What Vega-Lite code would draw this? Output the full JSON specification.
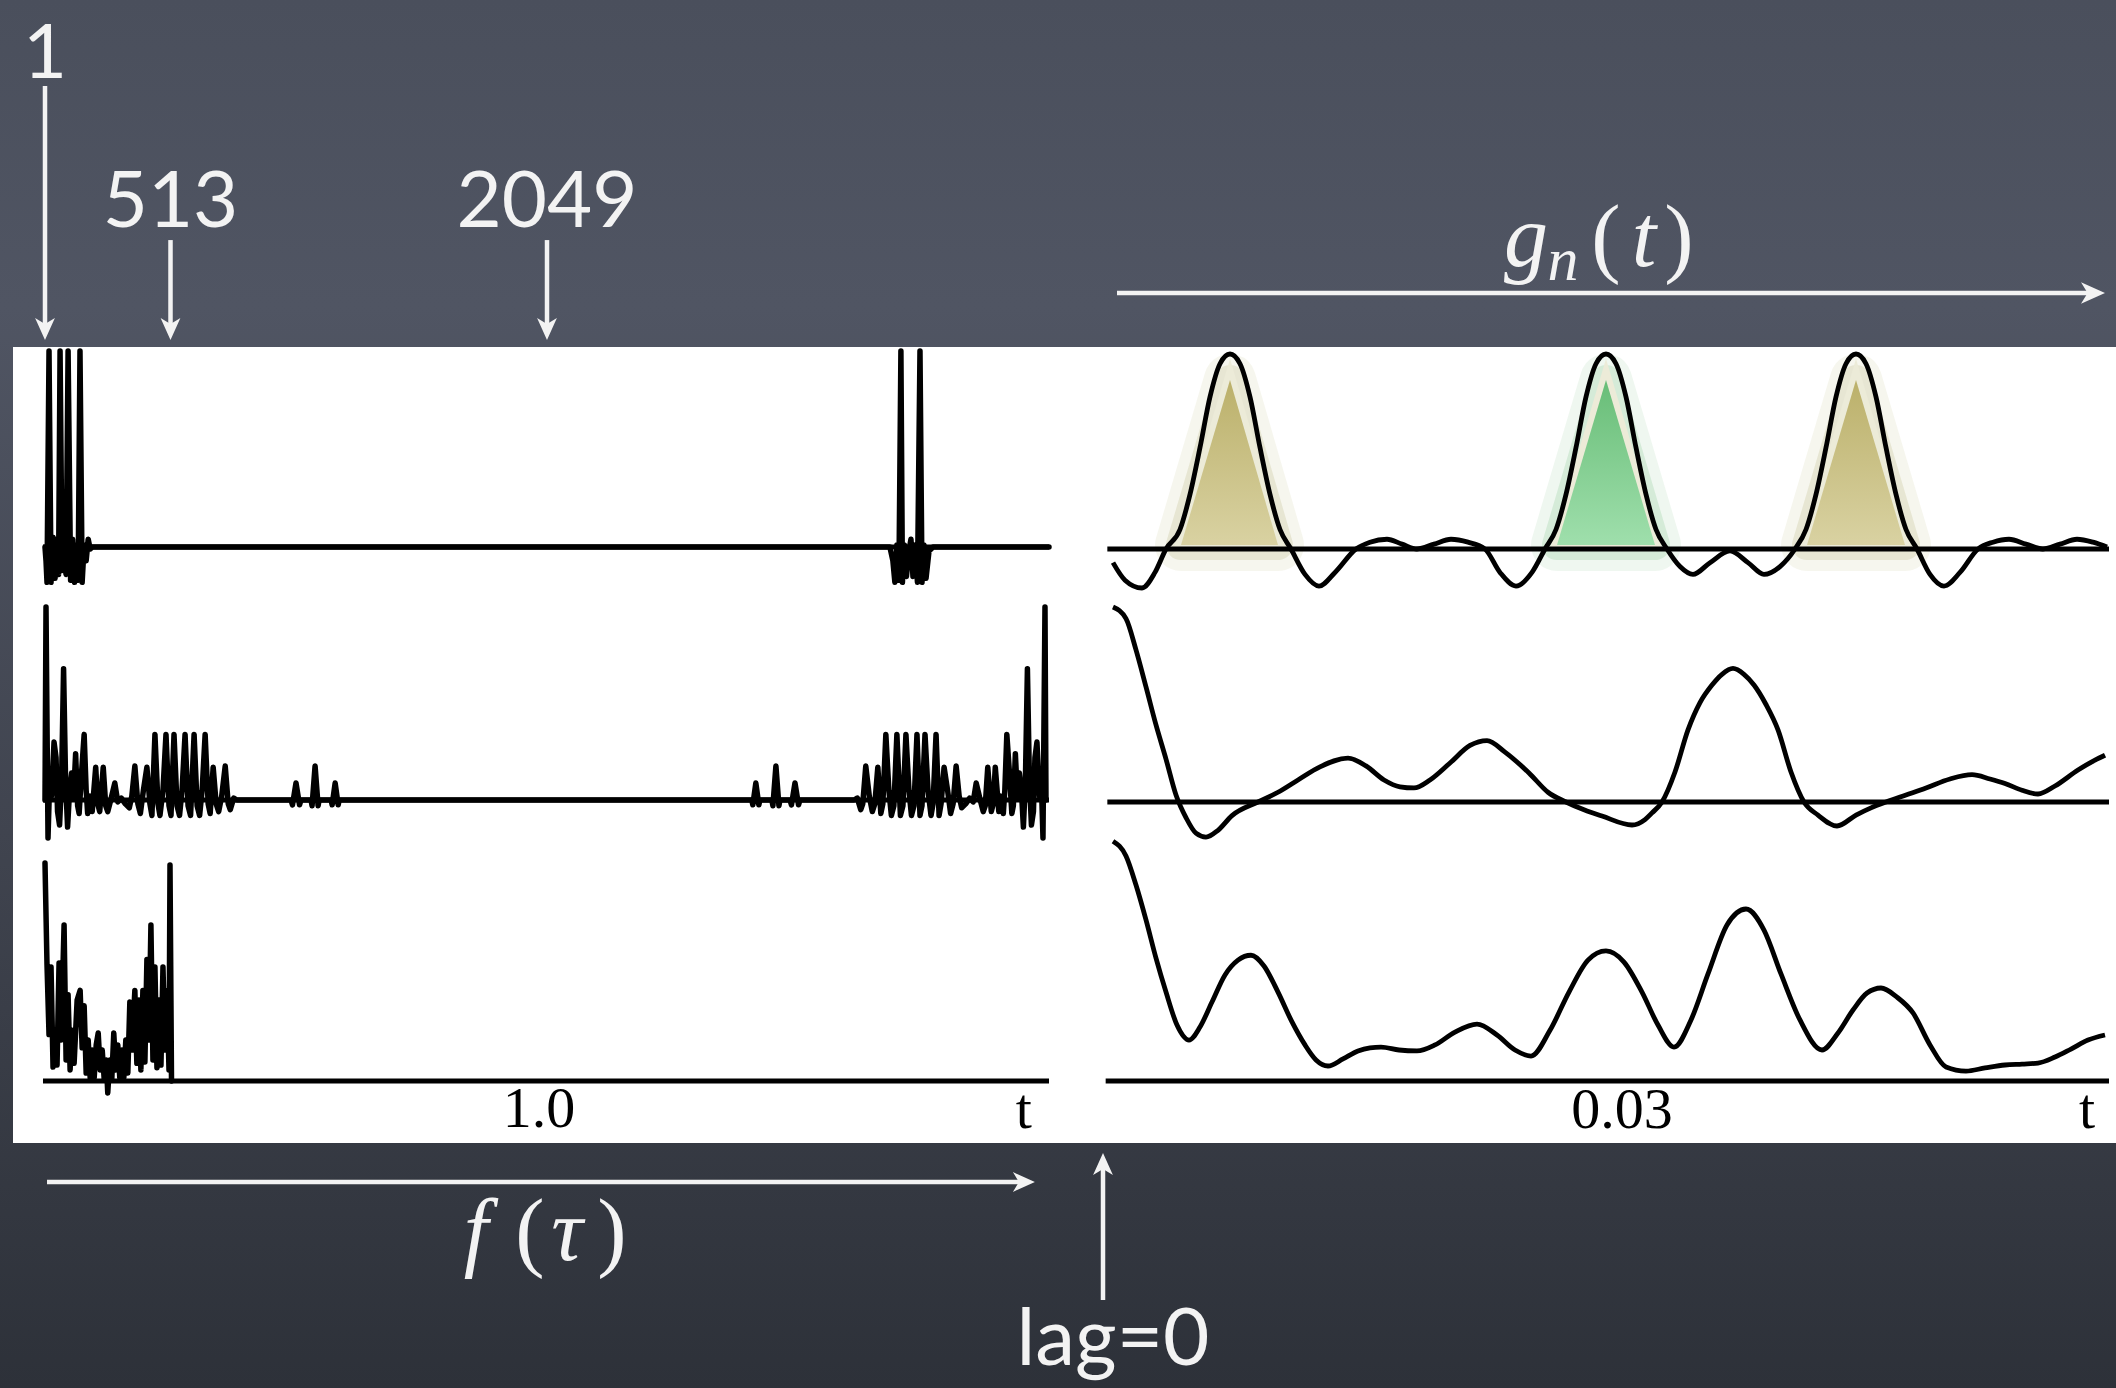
{
"$schema": "https://vega.github.io/schema/vega-lite/v6.json",
"width": 2116, "height": 1388, "padding": 0, "autosize": {"type": "none"},
"background": "#3c414c",
"config": {"view": {"stroke": null}, "axis": {"disable": true}},
"datasets": {
"f1": [{"t":0,"v":0},{"t":0.002,"v":-0.07},{"t":0.004,"v":-0.18},{"t":0.008,"v":1.0},{"t":0.012,"v":-0.18},{"t":0.016,"v":0.05},{"t":0.02,"v":-0.16},{"t":0.024,"v":0.04},{"t":0.027,"v":-0.14},{"t":0.03,"v":1.0},{"t":0.034,"v":-0.12},{"t":0.038,"v":-0.07},{"t":0.042,"v":-0.14},{"t":0.046,"v":1.0},{"t":0.051,"v":-0.17},{"t":0.055,"v":0.04},{"t":0.059,"v":-0.18},{"t":0.063,"v":0.01},{"t":0.066,"v":-0.17},{"t":0.0697,"v":1.0},{"t":0.074,"v":-0.18},{"t":0.078,"v":0.01},{"t":0.082,"v":-0.07},{"t":0.086,"v":0.04},{"t":0.09,"v":-0.01},{"t":0.094,"v":0},{"t":1.683,"v":0},{"t":1.689,"v":-0.07},{"t":1.693,"v":-0.18},{"t":1.697,"v":0.01},{"t":1.701,"v":-0.17},{"t":1.705,"v":1.0},{"t":1.708,"v":-0.18},{"t":1.712,"v":0.01},{"t":1.716,"v":-0.15},{"t":1.721,"v":-0.02},{"t":1.725,"v":0.04},{"t":1.729,"v":-0.15},{"t":1.733,"v":0.01},{"t":1.738,"v":-0.18},{"t":1.743,"v":1.0},{"t":1.747,"v":-0.18},{"t":1.751,"v":0.01},{"t":1.755,"v":-0.16},{"t":1.761,"v":-0.02},{"t":1.769,"v":0},{"t":2.0,"v":0}],
"f2": [{"t":0,"v":0},{"t":0.002,"v":1.0},{"t":0.006,"v":-0.197},{"t":0.01,"v":0.16},{"t":0.013,"v":0.02},{"t":0.018,"v":0.3},{"t":0.022,"v":0.22},{"t":0.025,"v":-0.06},{"t":0.029,"v":-0.13},{"t":0.033,"v":0.1},{"t":0.037,"v":0.68},{"t":0.041,"v":0.1},{"t":0.045,"v":-0.14},{"t":0.049,"v":0.05},{"t":0.053,"v":0.14},{"t":0.057,"v":0.02},{"t":0.061,"v":0.24},{"t":0.065,"v":-0.03},{"t":0.068,"v":-0.07},{"t":0.073,"v":0.15},{"t":0.078,"v":0.34},{"t":0.082,"v":0.05},{"t":0.085,"v":-0.07},{"t":0.09,"v":0.02},{"t":0.094,"v":-0.06},{"t":0.101,"v":0.17},{"t":0.105,"v":-0.02},{"t":0.109,"v":-0.06},{"t":0.116,"v":0.17},{"t":0.121,"v":-0.03},{"t":0.125,"v":-0.06},{"t":0.131,"v":0.0},{"t":0.139,"v":0.088},{"t":0.145,"v":-0.01},{"t":0.152,"v":0.01},{"t":0.16,"v":-0.02},{"t":0.168,"v":-0.04},{"t":0.173,"v":0.02},{"t":0.179,"v":0.176},{"t":0.185,"v":-0.02},{"t":0.19,"v":-0.07},{"t":0.196,"v":0.05},{"t":0.203,"v":0.17},{"t":0.209,"v":-0.02},{"t":0.213,"v":-0.08},{"t":0.219,"v":0.34},{"t":0.225,"v":-0.02},{"t":0.229,"v":-0.08},{"t":0.235,"v":0.05},{"t":0.241,"v":0.34},{"t":0.247,"v":-0.03},{"t":0.251,"v":-0.08},{"t":0.257,"v":0.34},{"t":0.263,"v":-0.03},{"t":0.268,"v":-0.08},{"t":0.273,"v":0.05},{"t":0.279,"v":0.34},{"t":0.285,"v":-0.03},{"t":0.29,"v":-0.08},{"t":0.297,"v":0.34},{"t":0.303,"v":-0.03},{"t":0.308,"v":-0.08},{"t":0.313,"v":0.05},{"t":0.319,"v":0.34},{"t":0.325,"v":-0.02},{"t":0.329,"v":-0.07},{"t":0.335,"v":0.17},{"t":0.341,"v":-0.02},{"t":0.346,"v":-0.06},{"t":0.352,"v":0.02},{"t":0.359,"v":0.176},{"t":0.365,"v":-0.02},{"t":0.369,"v":-0.05},{"t":0.376,"v":0.01},{"t":0.382,"v":0},{"t":0.49,"v":0},{"t":0.493,"v":-0.025},{"t":0.5,"v":0.088},{"t":0.507,"v":-0.025},{"t":0.51,"v":0},{"t":0.53,"v":0},{"t":0.532,"v":-0.03},{"t":0.538,"v":0.176},{"t":0.544,"v":-0.03},{"t":0.546,"v":0},{"t":0.57,"v":0},{"t":0.572,"v":-0.025},{"t":0.578,"v":0.088},{"t":0.584,"v":-0.025},{"t":0.586,"v":0},{"t":1.408,"v":0},{"t":1.41,"v":-0.025},{"t":1.416,"v":0.088},{"t":1.422,"v":-0.025},{"t":1.424,"v":0},{"t":1.448,"v":0},{"t":1.45,"v":-0.03},{"t":1.456,"v":0.176},{"t":1.462,"v":-0.03},{"t":1.464,"v":0},{"t":1.484,"v":0},{"t":1.487,"v":-0.025},{"t":1.494,"v":0.088},{"t":1.501,"v":-0.025},{"t":1.504,"v":0},{"t":1.612,"v":0},{"t":1.618,"v":0.01},{"t":1.625,"v":-0.05},{"t":1.629,"v":-0.02},{"t":1.635,"v":0.176},{"t":1.642,"v":0.02},{"t":1.648,"v":-0.06},{"t":1.653,"v":-0.02},{"t":1.659,"v":0.17},{"t":1.665,"v":-0.07},{"t":1.669,"v":-0.02},{"t":1.675,"v":0.34},{"t":1.681,"v":0.05},{"t":1.686,"v":-0.08},{"t":1.691,"v":-0.03},{"t":1.697,"v":0.34},{"t":1.704,"v":-0.08},{"t":1.709,"v":-0.03},{"t":1.715,"v":0.34},{"t":1.721,"v":0.05},{"t":1.726,"v":-0.08},{"t":1.731,"v":-0.03},{"t":1.737,"v":0.34},{"t":1.743,"v":-0.08},{"t":1.747,"v":-0.03},{"t":1.753,"v":0.34},{"t":1.759,"v":0.05},{"t":1.765,"v":-0.08},{"t":1.769,"v":-0.02},{"t":1.775,"v":0.34},{"t":1.781,"v":-0.08},{"t":1.785,"v":-0.02},{"t":1.791,"v":0.17},{"t":1.798,"v":0.05},{"t":1.804,"v":-0.07},{"t":1.809,"v":-0.02},{"t":1.815,"v":0.176},{"t":1.821,"v":0.02},{"t":1.826,"v":-0.04},{"t":1.834,"v":-0.02},{"t":1.842,"v":0.01},{"t":1.849,"v":-0.01},{"t":1.855,"v":0.088},{"t":1.863,"v":0.0},{"t":1.869,"v":-0.06},{"t":1.873,"v":-0.03},{"t":1.878,"v":0.17},{"t":1.885,"v":-0.06},{"t":1.889,"v":-0.02},{"t":1.893,"v":0.17},{"t":1.9,"v":-0.06},{"t":1.904,"v":0.02},{"t":1.909,"v":-0.07},{"t":1.912,"v":0.05},{"t":1.916,"v":0.34},{"t":1.921,"v":0.15},{"t":1.926,"v":-0.07},{"t":1.929,"v":-0.03},{"t":1.933,"v":0.24},{"t":1.937,"v":0.02},{"t":1.941,"v":0.14},{"t":1.945,"v":0.05},{"t":1.949,"v":-0.14},{"t":1.953,"v":0.1},{"t":1.957,"v":0.68},{"t":1.961,"v":0.1},{"t":1.965,"v":-0.13},{"t":1.969,"v":-0.06},{"t":1.972,"v":0.22},{"t":1.976,"v":0.3},{"t":1.981,"v":0.02},{"t":1.984,"v":0.16},{"t":1.988,"v":-0.197},{"t":1.992,"v":1.0},{"t":1.994,"v":0}],
"f3": [{"t":0,"v":0.986},{"t":0.004,"v":0.525},{"t":0.008,"v":0.21},{"t":0.012,"v":0.516},{"t":0.016,"v":0.063},{"t":0.02,"v":0.23},{"t":0.024,"v":0.072},{"t":0.028,"v":0.534},{"t":0.032,"v":0.186},{"t":0.038,"v":0.706},{"t":0.042,"v":0.095},{"t":0.046,"v":0.39},{"t":0.05,"v":0.05},{"t":0.054,"v":0.23},{"t":0.058,"v":0.08},{"t":0.064,"v":0.366},{"t":0.07,"v":0.41},{"t":0.074,"v":0.15},{"t":0.078,"v":0.34},{"t":0.082,"v":0.036},{"t":0.086,"v":0.186},{"t":0.09,"v":0.014},{"t":0.094,"v":0.14},{"t":0.098,"v":0.014},{"t":0.102,"v":0.163},{"t":0.106,"v":0.217},{"t":0.11,"v":0.05},{"t":0.114,"v":0.14},{"t":0.118,"v":0.005},{"t":0.122,"v":0.095},{"t":0.125,"v":-0.054},{"t":0.129,"v":0.095},{"t":0.133,"v":0.005},{"t":0.137,"v":0.217},{"t":0.141,"v":0.05},{"t":0.145,"v":0.163},{"t":0.149,"v":0.014},{"t":0.153,"v":0.14},{"t":0.157,"v":0.014},{"t":0.161,"v":0.186},{"t":0.165,"v":0.036},{"t":0.169,"v":0.357},{"t":0.173,"v":0.14},{"t":0.179,"v":0.41},{"t":0.183,"v":0.08},{"t":0.187,"v":0.366},{"t":0.191,"v":0.05},{"t":0.195,"v":0.41},{"t":0.199,"v":0.086},{"t":0.203,"v":0.55},{"t":0.207,"v":0.186},{"t":0.211,"v":0.706},{"t":0.215,"v":0.095},{"t":0.219,"v":0.516},{"t":0.223,"v":0.06},{"t":0.227,"v":0.366},{"t":0.231,"v":0.072},{"t":0.235,"v":0.516},{"t":0.239,"v":0.14},{"t":0.243,"v":0.41},{"t":0.247,"v":0.05},{"t":0.249,"v":0.977},{"t":0.252,"v":0}],
"g1": [{"t":0.00024,"v":-0.07},{"t":0.00096,"v":-0.16},{"t":0.00198,"v":-0.2},{"t":0.00276,"v":-0.12},{"t":0.00342,"v":0},{"t":0.00426,"v":0.1},{"t":0.00486,"v":0.28},{"t":0.00546,"v":0.52},{"t":0.00606,"v":0.78},{"t":0.00666,"v":0.95},{"t":0.00726,"v":1.0},{"t":0.00786,"v":0.95},{"t":0.00846,"v":0.78},{"t":0.00906,"v":0.52},{"t":0.00966,"v":0.28},{"t":0.01026,"v":0.1},{"t":0.01092,"v":0},{"t":0.01176,"v":-0.13},{"t":0.0126,"v":-0.19},{"t":0.01356,"v":-0.12},{"t":0.01482,"v":0},{"t":0.01566,"v":0.035},{"t":0.01668,"v":0.05},{"t":0.01758,"v":0.025},{"t":0.01848,"v":0.0},{"t":0.0195,"v":0.025},{"t":0.02052,"v":0.05},{"t":0.02154,"v":0.035},{"t":0.02256,"v":0},{"t":0.02346,"v":-0.12},{"t":0.02442,"v":-0.19},{"t":0.02538,"v":-0.12},{"t":0.02616,"v":0},{"t":0.02682,"v":0.1},{"t":0.02742,"v":0.28},{"t":0.02802,"v":0.52},{"t":0.02862,"v":0.78},{"t":0.02922,"v":0.95},{"t":0.02982,"v":1.0},{"t":0.03042,"v":0.95},{"t":0.03102,"v":0.78},{"t":0.03162,"v":0.52},{"t":0.03222,"v":0.28},{"t":0.03282,"v":0.1},{"t":0.03348,"v":0},{"t":0.03426,"v":-0.09},{"t":0.03504,"v":-0.13},{"t":0.03606,"v":-0.07},{"t":0.03726,"v":-0.01},{"t":0.03834,"v":-0.07},{"t":0.0393,"v":-0.13},{"t":0.04026,"v":-0.09},{"t":0.04116,"v":0},{"t":0.04182,"v":0.1},{"t":0.04242,"v":0.28},{"t":0.04302,"v":0.52},{"t":0.04362,"v":0.78},{"t":0.04422,"v":0.95},{"t":0.04482,"v":1.0},{"t":0.04542,"v":0.95},{"t":0.04602,"v":0.78},{"t":0.04662,"v":0.52},{"t":0.04722,"v":0.28},{"t":0.04782,"v":0.1},{"t":0.04848,"v":0},{"t":0.04926,"v":-0.13},{"t":0.0501,"v":-0.19},{"t":0.05106,"v":-0.12},{"t":0.05214,"v":0},{"t":0.05304,"v":0.035},{"t":0.054,"v":0.05},{"t":0.05502,"v":0.025},{"t":0.05604,"v":0.0},{"t":0.05706,"v":0.025},{"t":0.05808,"v":0.05},{"t":0.05904,"v":0.035},{"t":0.05988,"v":0.01}],
"g2": [{"t":0.00024,"v":1.0},{"t":0.00102,"v":0.94},{"t":0.00162,"v":0.78},{"t":0.00222,"v":0.59},{"t":0.00282,"v":0.395},{"t":0.00342,"v":0.22},{"t":0.00402,"v":0.036},{"t":0.00462,"v":-0.08},{"t":0.00522,"v":-0.16},{"t":0.00582,"v":-0.18},{"t":0.00654,"v":-0.145},{"t":0.00738,"v":-0.07},{"t":0.00894,"v":0},{"t":0.01014,"v":0.05},{"t":0.01134,"v":0.113},{"t":0.01266,"v":0.18},{"t":0.01434,"v":0.225},{"t":0.01542,"v":0.185},{"t":0.0165,"v":0.113},{"t":0.01746,"v":0.078},{"t":0.0183,"v":0.072},{"t":0.01926,"v":0.113},{"t":0.02046,"v":0.2},{"t":0.02166,"v":0.29},{"t":0.02268,"v":0.315},{"t":0.02376,"v":0.256},{"t":0.0252,"v":0.149},{"t":0.02634,"v":0.05},{"t":0.02742,"v":0},{"t":0.0285,"v":-0.04},{"t":0.02958,"v":-0.072},{"t":0.03138,"v":-0.118},{"t":0.03216,"v":-0.09},{"t":0.03258,"v":-0.056},{"t":0.03318,"v":0},{"t":0.03396,"v":0.154},{"t":0.03474,"v":0.37},{"t":0.03546,"v":0.51},{"t":0.03618,"v":0.6},{"t":0.03678,"v":0.655},{"t":0.03744,"v":0.685},{"t":0.0381,"v":0.655},{"t":0.0387,"v":0.6},{"t":0.03942,"v":0.5},{"t":0.04014,"v":0.37},{"t":0.04092,"v":0.154},{"t":0.0417,"v":0},{"t":0.04254,"v":-0.067},{"t":0.04368,"v":-0.123},{"t":0.04482,"v":-0.067},{"t":0.04572,"v":-0.03},{"t":0.04662,"v":0},{"t":0.04782,"v":0.036},{"t":0.04902,"v":0.072},{"t":0.05046,"v":0.118},{"t":0.05178,"v":0.14},{"t":0.05286,"v":0.118},{"t":0.05376,"v":0.095},{"t":0.05478,"v":0.06},{"t":0.05574,"v":0.041},{"t":0.05676,"v":0.082},{"t":0.05814,"v":0.164},{"t":0.05916,"v":0.215},{"t":0.05976,"v":0.24}],
"g3": [{"t":0.00024,"v":1.23},{"t":0.00102,"v":1.154},{"t":0.00162,"v":1.005},{"t":0.00222,"v":0.826},{"t":0.00282,"v":0.63},{"t":0.00342,"v":0.456},{"t":0.00408,"v":0.287},{"t":0.0048,"v":0.21},{"t":0.00546,"v":0.277},{"t":0.00618,"v":0.405},{"t":0.00696,"v":0.544},{"t":0.00774,"v":0.62},{"t":0.00852,"v":0.645},{"t":0.0093,"v":0.59},{"t":0.01014,"v":0.456},{"t":0.01098,"v":0.303},{"t":0.01176,"v":0.185},{"t":0.01242,"v":0.108},{"t":0.01314,"v":0.077},{"t":0.01404,"v":0.113},{"t":0.01494,"v":0.154},{"t":0.01566,"v":0.17},{"t":0.01632,"v":0.174},{"t":0.0174,"v":0.159},{"t":0.01848,"v":0.154},{"t":0.01956,"v":0.185},{"t":0.02076,"v":0.251},{"t":0.02208,"v":0.292},{"t":0.02328,"v":0.236},{"t":0.02436,"v":0.159},{"t":0.02532,"v":0.128},{"t":0.02646,"v":0.26},{"t":0.0276,"v":0.456},{"t":0.02874,"v":0.62},{"t":0.02982,"v":0.667},{"t":0.0309,"v":0.61},{"t":0.03198,"v":0.456},{"t":0.03294,"v":0.287},{"t":0.0339,"v":0.174},{"t":0.03492,"v":0.313},{"t":0.03594,"v":0.549},{"t":0.03708,"v":0.8},{"t":0.03822,"v":0.882},{"t":0.0393,"v":0.774},{"t":0.04032,"v":0.549},{"t":0.04146,"v":0.313},{"t":0.04278,"v":0.159},{"t":0.04374,"v":0.246},{"t":0.04464,"v":0.364},{"t":0.04548,"v":0.451},{"t":0.04632,"v":0.477},{"t":0.04728,"v":0.43},{"t":0.04824,"v":0.349},{"t":0.04926,"v":0.185},{"t":0.05022,"v":0.072},{"t":0.05142,"v":0.051},{"t":0.05256,"v":0.067},{"t":0.05376,"v":0.082},{"t":0.05478,"v":0.087},{"t":0.05574,"v":0.092},{"t":0.05676,"v":0.123},{"t":0.05772,"v":0.164},{"t":0.05874,"v":0.21},{"t":0.05976,"v":0.236}],
"tri": [{"tri":"a","kind":"olive","t":0.00432,"v":0.02},{"tri":"a","kind":"olive","t":0.00726,"v":0.867},{"tri":"a","kind":"olive","t":0.01014,"v":0.02},{"tri":"b","kind":"green","t":0.02688,"v":0.02},{"tri":"b","kind":"green","t":0.02982,"v":0.867},{"tri":"b","kind":"green","t":0.03276,"v":0.02},{"tri":"c","kind":"olive","t":0.04188,"v":0.02},{"tri":"c","kind":"olive","t":0.04482,"v":0.867},{"tri":"c","kind":"olive","t":0.04776,"v":0.02}],
"idx": [{"t":0,"idx":"1"},{"t":0.25,"idx":"513"},{"t":1,"idx":"2049"}]
},
"resolve": {"scale": {"x": "independent", "y": "independent"}},
"layer": [
{
 "data": {"values": [{}]},
 "mark": {"type": "rect", "fill": {"gradient": "linear", "x1": 0, "y1": 0, "x2": 0, "y2": 1, "stops": [{"offset": 0, "color": "#4a4f5c"}, {"offset": 0.22, "color": "#505563"}, {"offset": 0.6, "color": "#40444f"}, {"offset": 1, "color": "#2d3139"}]}},
 "encoding": {"x": {"value": 0}, "x2": {"value": "width"}, "y": {"value": 0}, "y2": {"value": "height"}}
},
{
 "data": {"values": [{}]},
 "mark": {"type": "rect", "fill": "#ffffff"},
 "encoding": {
  "x": {"datum": 0, "type": "quantitative", "scale": {"domain": [0, 1], "range": [13, 2116], "nice": false, "zero": false}, "axis": null},
  "x2": {"datum": 1},
  "y": {"datum": 0, "type": "quantitative", "scale": {"domain": [0, 1], "range": [347, 1143], "nice": false, "zero": false}, "axis": null},
  "y2": {"datum": 1}
 }
},
{
 "layer": [
  {"data": {"name": "f1"}, "mark": {"type": "line", "stroke": "#000000", "strokeWidth": 5.5, "strokeJoin": "round", "strokeCap": "round"},
   "encoding": {"x": {"field": "t", "type": "quantitative", "scale": {"domain": [0, 2], "range": [45, 1049], "nice": false, "zero": false}, "axis": null},
                "y": {"field": "v", "type": "quantitative", "scale": {"domain": [0, 1], "range": [547, 351], "nice": false, "zero": false}, "axis": null}}},
  {"data": {"values": [{}]}, "mark": {"type": "rule", "stroke": "#000000", "strokeWidth": 5},
   "encoding": {"x": {"datum": -0.004, "type": "quantitative", "axis": null}, "x2": {"datum": 2.0}, "y": {"datum": 0, "type": "quantitative", "axis": null}}},
  {"data": {"name": "idx"}, "transform": [{"filter": "datum.t == 0"}], "mark": {"type": "rule", "stroke": "#f3f3f3", "strokeWidth": 4.5},
   "encoding": {"x": {"field": "t", "type": "quantitative", "axis": null}, "y": {"datum": 2.352, "type": "quantitative", "axis": null}, "y2": {"datum": 1.1}}},
  {"data": {"name": "idx"}, "transform": [{"filter": "datum.t > 0"}], "mark": {"type": "rule", "stroke": "#f3f3f3", "strokeWidth": 4.5},
   "encoding": {"x": {"field": "t", "type": "quantitative", "axis": null}, "y": {"datum": 1.566, "type": "quantitative", "axis": null}, "y2": {"datum": 1.1}}},
  {"data": {"name": "idx"}, "mark": {"type": "point", "shape": "M0,1L-0.9,-1L0,-0.45L0.9,-1Z", "size": 484, "filled": true, "color": "#f3f3f3", "opacity": 1},
   "encoding": {"x": {"field": "t", "type": "quantitative", "axis": null}, "y": {"datum": 1.112, "type": "quantitative", "axis": null}}},
  {"data": {"name": "idx"}, "transform": [{"filter": "datum.t == 0"}], "mark": {"type": "text", "font": "Lato", "fontSize": 76, "color": "#f3f3f3", "align": "center", "baseline": "alphabetic"},
   "encoding": {"x": {"field": "t", "type": "quantitative", "axis": null}, "y": {"datum": 2.393, "type": "quantitative", "axis": null}, "text": {"field": "idx"}}},
  {"data": {"name": "idx"}, "transform": [{"filter": "datum.t > 0"}], "mark": {"type": "text", "font": "Lato", "fontSize": 78, "color": "#f3f3f3", "align": "center", "baseline": "alphabetic"},
   "encoding": {"x": {"field": "t", "type": "quantitative", "axis": null}, "y": {"datum": 1.633, "type": "quantitative", "axis": null}, "text": {"field": "idx"}}}
 ]
},
{
 "layer": [
  {"data": {"name": "f2"}, "mark": {"type": "line", "stroke": "#000000", "strokeWidth": 5.5, "strokeJoin": "round", "strokeCap": "round"},
   "encoding": {"x": {"field": "t", "type": "quantitative", "scale": {"domain": [0, 2], "range": [45, 1049], "nice": false, "zero": false}, "axis": null},
                "y": {"field": "v", "type": "quantitative", "scale": {"domain": [0, 1], "range": [800, 607], "nice": false, "zero": false}, "axis": null}}},
  {"data": {"values": [{}]}, "mark": {"type": "rule", "stroke": "#000000", "strokeWidth": 5},
   "encoding": {"x": {"datum": -0.004, "type": "quantitative", "axis": null}, "x2": {"datum": 2.0}, "y": {"datum": 0, "type": "quantitative", "axis": null}}}
 ]
},
{
 "layer": [
  {"data": {"name": "f3"}, "mark": {"type": "line", "stroke": "#000000", "strokeWidth": 5.5, "strokeJoin": "round", "strokeCap": "round"},
   "encoding": {"x": {"field": "t", "type": "quantitative", "scale": {"domain": [0, 2], "range": [45, 1049], "nice": false, "zero": false}, "axis": null},
                "y": {"field": "v", "type": "quantitative", "scale": {"domain": [0, 1], "range": [1081, 860], "nice": false, "zero": false}, "axis": null}}},
  {"data": {"values": [{}]}, "mark": {"type": "rule", "stroke": "#000000", "strokeWidth": 5},
   "encoding": {"x": {"datum": -0.004, "type": "quantitative", "axis": null}, "x2": {"datum": 2.0}, "y": {"datum": 0, "type": "quantitative", "axis": null}}},
  {"data": {"values": [{}]}, "mark": {"type": "text", "text": "1.0", "font": "Liberation Serif", "fontSize": 58, "color": "#000000", "align": "center", "baseline": "alphabetic", "dx": -8},
   "encoding": {"x": {"datum": 1.0, "type": "quantitative", "axis": null}, "y": {"datum": -0.208, "type": "quantitative", "axis": null}}},
  {"data": {"values": [{}]}, "mark": {"type": "text", "text": "t", "font": "Liberation Serif", "fontSize": 58, "color": "#000000", "align": "center", "baseline": "alphabetic"},
   "encoding": {"x": {"datum": 1.95, "type": "quantitative", "axis": null}, "y": {"datum": -0.213, "type": "quantitative", "axis": null}}},
  {"data": {"values": [{}]}, "mark": {"type": "rule", "stroke": "#f3f3f3", "strokeWidth": 4.5},
   "encoding": {"x": {"datum": 0.004, "type": "quantitative", "axis": null}, "x2": {"datum": 1.95}, "y": {"datum": -0.457, "type": "quantitative", "axis": null}}},
  {"data": {"values": [{}]}, "mark": {"type": "point", "shape": "M1,0L-1,-0.9L-0.45,0L-1,0.9Z", "size": 484, "filled": true, "color": "#f3f3f3", "opacity": 1},
   "encoding": {"x": {"datum": 1.95, "type": "quantitative", "axis": null}, "y": {"datum": -0.457, "type": "quantitative", "axis": null}}},
  {"data": {"values": [{}]}, "mark": {"type": "text", "text": "f", "font": "Liberation Serif", "fontStyle": "italic", "fontSize": 88, "color": "#f3f3f3", "align": "center", "baseline": "alphabetic", "dx": -64},
   "encoding": {"x": {"datum": 0.986, "type": "quantitative", "axis": null}, "y": {"datum": -0.81, "type": "quantitative", "axis": null}}},
  {"data": {"values": [{}]}, "mark": {"type": "text", "text": "(", "font": "Liberation Serif", "fontSize": 88, "color": "#f3f3f3", "align": "center", "baseline": "alphabetic", "dx": -10},
   "encoding": {"x": {"datum": 0.986, "type": "quantitative", "axis": null}, "y": {"datum": -0.81, "type": "quantitative", "axis": null}}},
  {"data": {"values": [{}]}, "mark": {"type": "text", "text": "τ", "font": "Liberation Serif", "fontStyle": "italic", "fontSize": 88, "color": "#f3f3f3", "align": "center", "baseline": "alphabetic", "dx": 27},
   "encoding": {"x": {"datum": 0.986, "type": "quantitative", "axis": null}, "y": {"datum": -0.81, "type": "quantitative", "axis": null}}},
  {"data": {"values": [{}]}, "mark": {"type": "text", "text": ")", "font": "Liberation Serif", "fontSize": 88, "color": "#f3f3f3", "align": "center", "baseline": "alphabetic", "dx": 72},
   "encoding": {"x": {"datum": 0.986, "type": "quantitative", "axis": null}, "y": {"datum": -0.81, "type": "quantitative", "axis": null}}}
 ]
},
{
 "layer": [
  {"data": {"name": "tri"}, "mark": {"type": "area", "fillOpacity": 0, "stroke": "#a8a35a", "strokeOpacity": 0.1, "strokeWidth": 52, "strokeJoin": "round"},
   "transform": [{"filter": "datum.kind == 'olive'"}],
   "encoding": {"x": {"field": "t", "type": "quantitative", "scale": {"domain": [0, 0.06], "range": [1109, 2109], "nice": false, "zero": false}, "axis": null},
                "y": {"field": "v", "type": "quantitative", "scale": {"domain": [0, 1], "range": [549, 354], "nice": false, "zero": false}, "axis": null},
                "y2": {"datum": 0.02}, "detail": {"field": "tri"}}},
  {"data": {"name": "tri"}, "mark": {"type": "area", "fillOpacity": 0, "stroke": "#a8a35a", "strokeOpacity": 0.18, "strokeWidth": 30, "strokeJoin": "round"},
   "transform": [{"filter": "datum.kind == 'olive'"}],
   "encoding": {"x": {"field": "t", "type": "quantitative", "axis": null}, "y": {"field": "v", "type": "quantitative", "axis": null}, "y2": {"datum": 0.02}, "detail": {"field": "tri"}}},
  {"data": {"name": "tri"}, "mark": {"type": "area", "fillOpacity": 0, "stroke": "#5fb56f", "strokeOpacity": 0.1, "strokeWidth": 52, "strokeJoin": "round"},
   "transform": [{"filter": "datum.kind == 'green'"}],
   "encoding": {"x": {"field": "t", "type": "quantitative", "axis": null}, "y": {"field": "v", "type": "quantitative", "axis": null}, "y2": {"datum": 0.02}, "detail": {"field": "tri"}}},
  {"data": {"name": "tri"}, "mark": {"type": "area", "fillOpacity": 0, "stroke": "#5fb56f", "strokeOpacity": 0.18, "strokeWidth": 30, "strokeJoin": "round"},
   "transform": [{"filter": "datum.kind == 'green'"}],
   "encoding": {"x": {"field": "t", "type": "quantitative", "axis": null}, "y": {"field": "v", "type": "quantitative", "axis": null}, "y2": {"datum": 0.02}, "detail": {"field": "tri"}}},
  {"data": {"name": "tri"}, "mark": {"type": "area", "fill": "#ecebd8", "stroke": "#ecebd8", "strokeWidth": 12, "strokeJoin": "miter"},
   "encoding": {"x": {"field": "t", "type": "quantitative", "axis": null}, "y": {"field": "v", "type": "quantitative", "axis": null}, "y2": {"datum": 0.02}, "detail": {"field": "tri"}}},
  {"data": {"name": "tri"}, "transform": [{"filter": "datum.kind == 'olive'"}],
   "mark": {"type": "area", "fill": {"gradient": "linear", "x1": 0, "y1": 0, "x2": 0, "y2": 1, "stops": [{"offset": 0, "color": "#bbb06a"}, {"offset": 1, "color": "#d9d2a2"}]}},
   "encoding": {"x": {"field": "t", "type": "quantitative", "axis": null}, "y": {"field": "v", "type": "quantitative", "axis": null}, "y2": {"datum": 0.02}, "detail": {"field": "tri"}}},
  {"data": {"name": "tri"}, "transform": [{"filter": "datum.kind == 'green'"}],
   "mark": {"type": "area", "fill": {"gradient": "linear", "x1": 0, "y1": 0, "x2": 0, "y2": 1, "stops": [{"offset": 0, "color": "#68bd77"}, {"offset": 1, "color": "#9fdfac"}]}},
   "encoding": {"x": {"field": "t", "type": "quantitative", "axis": null}, "y": {"field": "v", "type": "quantitative", "axis": null}, "y2": {"datum": 0.02}, "detail": {"field": "tri"}}},
  {"data": {"name": "g1"}, "mark": {"type": "line", "stroke": "#000000", "strokeWidth": 4.8, "interpolate": "monotone", "strokeJoin": "round"},
   "encoding": {"x": {"field": "t", "type": "quantitative", "axis": null}, "y": {"field": "v", "type": "quantitative", "axis": null}}},
  {"data": {"values": [{}]}, "mark": {"type": "rule", "stroke": "#000000", "strokeWidth": 5},
   "encoding": {"x": {"datum": -0.0001, "type": "quantitative", "axis": null}, "x2": {"datum": 0.06}, "y": {"datum": 0, "type": "quantitative", "axis": null}}},
  {"data": {"values": [{}]}, "mark": {"type": "rule", "stroke": "#f3f3f3", "strokeWidth": 4.5},
   "encoding": {"x": {"datum": 0.00048, "type": "quantitative", "axis": null}, "x2": {"datum": 0.0590}, "y": {"datum": 1.313, "type": "quantitative", "axis": null}}},
  {"data": {"values": [{}]}, "mark": {"type": "point", "shape": "M1,0L-1,-0.9L-0.45,0L-1,0.9Z", "size": 576, "filled": true, "color": "#f3f3f3", "opacity": 1},
   "encoding": {"x": {"datum": 0.05904, "type": "quantitative", "axis": null}, "y": {"datum": 1.313, "type": "quantitative", "axis": null}}},
  {"data": {"values": [{}]}, "mark": {"type": "text", "text": "g", "font": "Liberation Serif", "fontStyle": "italic", "fontSize": 88, "color": "#f3f3f3", "align": "center", "baseline": "alphabetic", "dx": -73},
   "encoding": {"x": {"datum": 0.0294, "type": "quantitative", "axis": null}, "y": {"datum": 1.451, "type": "quantitative", "axis": null}}},
  {"data": {"values": [{}]}, "mark": {"type": "text", "text": "n", "font": "Liberation Serif", "fontStyle": "italic", "fontSize": 62, "color": "#f3f3f3", "align": "center", "baseline": "alphabetic", "dx": -36},
   "encoding": {"x": {"datum": 0.0294, "type": "quantitative", "axis": null}, "y": {"datum": 1.379, "type": "quantitative", "axis": null}}},
  {"data": {"values": [{}]}, "mark": {"type": "text", "text": "(", "font": "Liberation Serif", "fontSize": 88, "color": "#f3f3f3", "align": "center", "baseline": "alphabetic", "dx": 7},
   "encoding": {"x": {"datum": 0.0294, "type": "quantitative", "axis": null}, "y": {"datum": 1.451, "type": "quantitative", "axis": null}}},
  {"data": {"values": [{}]}, "mark": {"type": "text", "text": "t", "font": "Liberation Serif", "fontStyle": "italic", "fontSize": 88, "color": "#f3f3f3", "align": "center", "baseline": "alphabetic", "dx": 45},
   "encoding": {"x": {"datum": 0.0294, "type": "quantitative", "axis": null}, "y": {"datum": 1.451, "type": "quantitative", "axis": null}}},
  {"data": {"values": [{}]}, "mark": {"type": "text", "text": ")", "font": "Liberation Serif", "fontSize": 88, "color": "#f3f3f3", "align": "center", "baseline": "alphabetic", "dx": 80},
   "encoding": {"x": {"datum": 0.0294, "type": "quantitative", "axis": null}, "y": {"datum": 1.451, "type": "quantitative", "axis": null}}}
 ]
},
{
 "layer": [
  {"data": {"name": "g2"}, "mark": {"type": "line", "stroke": "#000000", "strokeWidth": 4.8, "interpolate": "monotone", "strokeJoin": "round"},
   "encoding": {"x": {"field": "t", "type": "quantitative", "scale": {"domain": [0, 0.06], "range": [1109, 2109], "nice": false, "zero": false}, "axis": null},
                "y": {"field": "v", "type": "quantitative", "scale": {"domain": [0, 1], "range": [802, 607], "nice": false, "zero": false}, "axis": null}}},
  {"data": {"values": [{}]}, "mark": {"type": "rule", "stroke": "#000000", "strokeWidth": 5},
   "encoding": {"x": {"datum": -0.0001, "type": "quantitative", "axis": null}, "x2": {"datum": 0.06}, "y": {"datum": 0, "type": "quantitative", "axis": null}}}
 ]
},
{
 "layer": [
  {"data": {"name": "g3"}, "mark": {"type": "line", "stroke": "#000000", "strokeWidth": 4.8, "interpolate": "monotone", "strokeJoin": "round"},
   "encoding": {"x": {"field": "t", "type": "quantitative", "scale": {"domain": [0, 0.06], "range": [1109, 2109], "nice": false, "zero": false}, "axis": null},
                "y": {"field": "v", "type": "quantitative", "scale": {"domain": [0, 1], "range": [1081, 886], "nice": false, "zero": false}, "axis": null}}},
  {"data": {"values": [{}]}, "mark": {"type": "rule", "stroke": "#000000", "strokeWidth": 5},
   "encoding": {"x": {"datum": -0.0002, "type": "quantitative", "axis": null}, "x2": {"datum": 0.06}, "y": {"datum": 0, "type": "quantitative", "axis": null}}},
  {"data": {"values": [{}]}, "mark": {"type": "text", "text": "0.03", "font": "Liberation Serif", "fontSize": 58, "color": "#000000", "align": "center", "baseline": "alphabetic", "dx": 13},
   "encoding": {"x": {"datum": 0.03, "type": "quantitative", "axis": null}, "y": {"datum": -0.241, "type": "quantitative", "axis": null}}},
  {"data": {"values": [{}]}, "mark": {"type": "text", "text": "t", "font": "Liberation Serif", "fontSize": 58, "color": "#000000", "align": "center", "baseline": "alphabetic"},
   "encoding": {"x": {"datum": 0.05868, "type": "quantitative", "axis": null}, "y": {"datum": -0.241, "type": "quantitative", "axis": null}}},
  {"data": {"values": [{}]}, "mark": {"type": "rule", "stroke": "#f3f3f3", "strokeWidth": 4.5},
   "encoding": {"x": {"datum": -0.00036, "type": "quantitative", "axis": null}, "y": {"datum": -0.43, "type": "quantitative", "axis": null}, "y2": {"datum": -1.123}}},
  {"data": {"values": [{}]}, "mark": {"type": "point", "shape": "M0,-1L-0.9,1L0,0.45L0.9,1Z", "size": 484, "filled": true, "color": "#f3f3f3", "opacity": 1},
   "encoding": {"x": {"datum": -0.00036, "type": "quantitative", "axis": null}, "y": {"datum": -0.426, "type": "quantitative", "axis": null}}},
  {"data": {"values": [{}]}, "mark": {"type": "text", "text": "lag=0", "font": "Lato", "fontSize": 80, "color": "#f3f3f3", "align": "center", "baseline": "alphabetic"},
   "encoding": {"x": {"datum": 0.00024, "type": "quantitative", "axis": null}, "y": {"datum": -1.456, "type": "quantitative", "axis": null}}}
 ]
}
]
}
